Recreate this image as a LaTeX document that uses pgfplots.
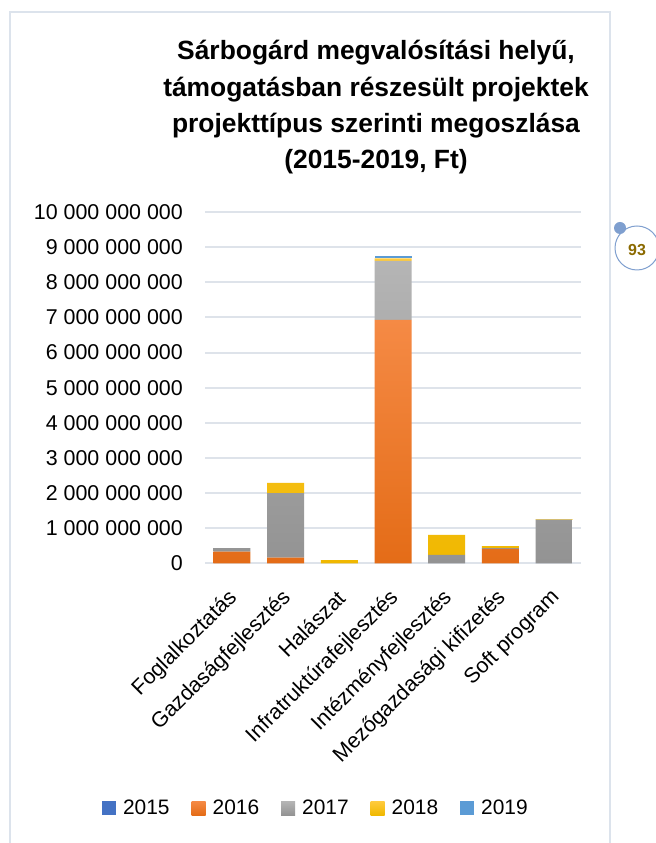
\documentclass[border=0pt]{standalone}
\usepackage{pgfplots}
\pgfplotsset{compat=1.18}
\usepackage{fontspec}
\setmainfont{Liberation Sans}
\definecolor{c15}{HTML}{4472C4}
\definecolor{c16t}{HTML}{F58A45}
\definecolor{c16b}{HTML}{E46C17}
\definecolor{c17t}{HTML}{B5B5B5}
\definecolor{c17b}{HTML}{939393}
\definecolor{c18t}{HTML}{FFCB3E}
\definecolor{c18b}{HTML}{F0B800}
\definecolor{c19}{HTML}{5B9BD5}
\definecolor{gridc}{HTML}{DEE3EA}
\definecolor{framec}{HTML}{DCE3EC}
\definecolor{circc}{HTML}{7F9FCF}
\definecolor{numc}{HTML}{8B6A00}
\begin{document}
\begin{tikzpicture}[x=1bp,y=1bp]
\path[use as bounding box] (0,0) rectangle (656,843);
\fill[white] (0,0) rectangle (656,843);
\draw[framec, line width=1.5bp] (10,-5) -- (10,831) -- (610,831) -- (610,-5);
\draw[circc, line width=1bp] (637,595) circle (22);
\fill[circc] (620,615) circle (6);
\node[font=\bfseries\fontsize{16}{18}\selectfont, text=numc] at (637,593) {93};
\node[font=\bfseries\fontsize{26.5}{36.5}\selectfont, align=center] at (376,735.5)
  {Sárbogárd megvalósítási helyű,\\támogatásban részesült projektek\\projekttípus szerinti megoszlása\\(2015-2019, Ft)};
\begin{axis}[
  at={(205bp,279.7bp)}, anchor=south west,
  scale only axis, width=376bp, height=351.3bp,
  ybar stacked, bar width=37bp,
  xmin=-0.5, xmax=6.5, ymin=0, ymax=1e10,
  scaled y ticks=false,
  axis line style={draw=none},
  major tick length=0pt,
  ymajorgrids, grid style={gridc, line width=2bp},
  ytick={0,1e9,2e9,3e9,4e9,5e9,6e9,7e9,8e9,9e9,1e10},
  yticklabels={0,1 000 000 000,2 000 000 000,3 000 000 000,4 000 000 000,5 000 000 000,6 000 000 000,7 000 000 000,8 000 000 000,9 000 000 000,10 000 000 000},
  yticklabel style={font=\fontsize{21.5}{24}\selectfont, anchor=east, inner sep=0pt, xshift=-22bp},
  xtick={0,1,2,3,4,5,6},
  xticklabels={Foglalkoztatás,Gazdaságfejlesztés,Halászat,Infratruktúrafejlesztés,Intézményfejlesztés,Mezőgazdasági kifizetés,Soft program},
  xticklabel style={font=\fontsize{21.5}{24}\selectfont, xshift=2bp, yshift=-31bp, rotate=45, anchor=east, inner sep=0pt},
  legend columns=5,
  legend style={at={(0.295,-0.697)}, anchor=center, draw=none, fill=none,
    font=\fontsize{21}{24}\selectfont, column sep=0pt,
    /tikz/every odd column/.append style={column sep=5bp},
    /tikz/every even column/.append style={column sep=20bp}},
  legend image code/.code={\path[#1] (0bp,-7bp) rectangle (14bp,7bp);},
]
\addplot[draw=none, fill=c15] coordinates {(0,0) (1,0) (2,0) (3,0) (4,0) (5,0) (6,0)};
\addplot[draw=none, top color=c16t, bottom color=c16b] coordinates {(0,0.33e9) (1,0.16e9) (2,0) (3,6.93e9) (4,0) (5,0.41e9) (6,0)};
\addplot[draw=none, top color=c17t, bottom color=c17b] coordinates {(0,0.10e9) (1,1.84e9) (2,0) (3,1.68e9) (4,0.24e9) (5,0.02e9) (6,1.24e9)};
\addplot[draw=none, top color=c18t, bottom color=c18b] coordinates {(0,0) (1,0.29e9) (2,0.09e9) (3,0.07e9) (4,0.57e9) (5,0.06e9) (6,0.02e9)};
\addplot[draw=none, fill=c19] coordinates {(0,0) (1,0) (2,0) (3,0.07e9) (4,0) (5,0) (6,0)};
\legend{2015,2016,2017,2018,2019}
\end{axis}
\end{tikzpicture}
\end{document}
